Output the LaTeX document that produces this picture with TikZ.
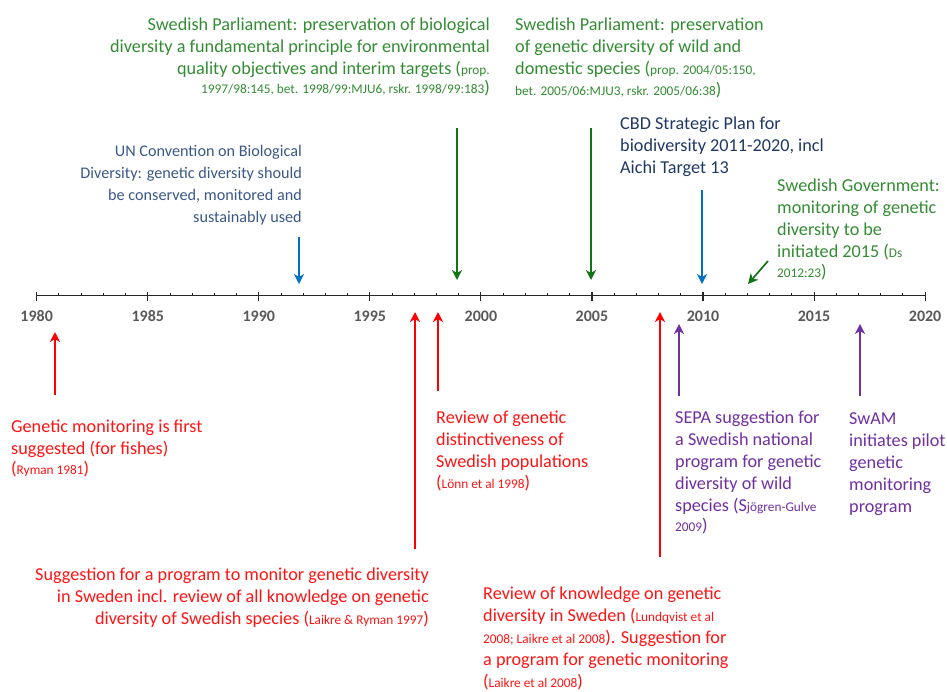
\documentclass[tikz,border=0pt]{standalone}
\usepackage{fontspec}
\setmainfont{Carlito}
\usetikzlibrary{arrows.meta}

\definecolor{govgreen}{RGB}{51,140,51}
\definecolor{arrowgreen}{RGB}{20,115,20}
\definecolor{sugred}{RGB}{255,20,20}
\definecolor{arrowblue}{RGB}{0,112,192}
\definecolor{unblue}{RGB}{58,88,135}
\definecolor{cbdblue}{RGB}{31,56,100}
\definecolor{swampurple}{RGB}{112,48,160}
\definecolor{yeargray}{RGB}{89,89,89}

\newcommand{\refsize}{\fontsize{13.3}{15}\selectfont}

\begin{document}
\begin{tikzpicture}[x=1pt,y=-1pt]
    % timeline 1980-2020, one unit is one pixel of the original
    % text nodes sit on the baseline of their last line
    \tikzstyle{event} = [inner sep=0pt, font=\fontsize{18.2}{21.9}\selectfont];
    \tikzstyle{year} = [inner sep=0pt, font=\fontsize{16}{18}\selectfont\bfseries, text=yeargray];
    \tikzstyle{pointer} = [line width=1.7pt, -{Stealth[length=10pt,width=10pt,inset=3pt]}];

    \useasboundingbox (0,0) rectangle (947,691);

    \coordinate (start) at (36.7,295.3);
    \coordinate (stop) at (925,295.3);
    \draw[line width=1.1pt, black!85] (start) -- (stop);
    \foreach \yr in {0,...,40}
        \draw[line width=0.9pt, black!85] (36.7+22.21*\yr,292.5) -- ++(0,2.8);
    \foreach \yr/\lbl in {0/1980,5/1985,10/1990,15/1995,20/2000,25/2005,30/2010,35/2015,40/2020} {
        \draw[line width=1.1pt, black!85] (36.7+22.21*\yr,291.5) -- ++(0,9.5);
        \node[year, anchor=base] (y\lbl) at (36.7+22.21*\yr,321.7) {\lbl};
    }

    % events above the line
    \node[event, text=govgreen, align=right, anchor=base east] (biodiv) at (490,93)
        {Swedish Parliament: preservation of biological\\
         diversity a fundamental principle for environmental\\
         quality objectives and interim targets ({\refsize prop.}\\[-3pt]
         {\refsize 1997/98:145, bet. 1998/99:MJU6, rskr. 1998/99:183})};
    \node[event, text=govgreen, align=left, anchor=base west] (genediv) at (515,95)
        {Swedish Parliament: preservation\\
         of genetic diversity of wild and\\
         domestic species ({\refsize prop. 2004/05:150,}\\[-1pt]
         {\refsize bet. 2005/06:MJU3, rskr. 2005/06:38})};
    \node[event, font=\fontsize{16.2}{21.7}\selectfont, text=unblue, align=right, anchor=base east] (uncbd) at (302,222)
        {UN Convention on Biological\\
         Diversity: genetic diversity should\\
         be conserved, monitored and\\
         sustainably used};
    \node[event, text=cbdblue, align=left, anchor=base west] (aichi) at (620,173)
        {CBD Strategic Plan for\\
         biodiversity 2011-2020, incl\\
         Aichi Target 13};
    \node[event, text=govgreen, align=left, anchor=base west] (govt) at (777,277)
        {Swedish Government:\\
         monitoring of genetic\\
         diversity to be\\
         initiated 2015 ({\refsize Ds}\\[-2pt]
         {\refsize 2012:23})};

    % events below the line
    \node[event, text=sugred, align=left, anchor=base west] (ryman) at (11,474)
        {Genetic monitoring is first\\
         suggested (for fishes)\\[-2pt]
         ({\refsize Ryman 1981})};
    \node[event, text=sugred, align=left, anchor=base west] (lonn) at (436,488)
        {Review of genetic\\
         distinctiveness of\\
         Swedish populations\\[-1pt]
         ({\refsize Lönn et al 1998})};
    \node[event, text=sugred, align=right, anchor=base east] (laikre97) at (429,624)
        {Suggestion for a program to monitor genetic diversity\\
         in Sweden incl. review of all knowledge on genetic\\
         diversity of Swedish species ({\refsize Laikre \& Ryman 1997})};
    \node[event, text=sugred, align=left, anchor=base west] (laikre08) at (483,687)
        {Review of knowledge on genetic\\
         diversity in Sweden ({\refsize Lundqvist et al}\\
         {\refsize 2008; Laikre et al 2008}). Suggestion for\\
         a program for genetic monitoring\\
         ({\refsize Laikre et al 2008})};
    \node[event, text=swampurple, align=left, anchor=base west] (sepa) at (675,531)
        {SEPA suggestion for\\
         a Swedish national\\
         program for genetic\\
         diversity of wild\\
         species (S{\refsize jögren-Gulve}\\[-2pt]
         {\refsize 2009})};
    \node[event, text=swampurple, align=left, anchor=base west] (swam) at (849,512)
        {SwAM\\
         initiates pilot\\
         genetic\\
         monitoring\\
         program};

    % arrow ends
    \coordinate (uncbd-from) at (299,237);     \coordinate (uncbd-to) at (299,284);
    \coordinate (biodiv-from) at (457,128);    \coordinate (biodiv-to) at (457,280);
    \coordinate (genediv-from) at (591,128);   \coordinate (genediv-to) at (591,280);
    \coordinate (aichi-from) at (702,190);     \coordinate (aichi-to) at (702,284);
    \coordinate (govt-from) at (768,261);      \coordinate (govt-to) at (748,284);
    \coordinate (ryman-from) at (55,395);      \coordinate (ryman-to) at (55,332);
    \coordinate (laikre97-from) at (415,549);  \coordinate (laikre97-to) at (415,312);
    \coordinate (lonn-from) at (438,391);      \coordinate (lonn-to) at (438,312);
    \coordinate (laikre08-from) at (660,557);  \coordinate (laikre08-to) at (660,312);
    \coordinate (sepa-from) at (679,396);      \coordinate (sepa-to) at (679,324);
    \coordinate (swam-from) at (860,396);      \coordinate (swam-to) at (860,324);

    \draw[pointer, arrowblue] (uncbd-from) -- (uncbd-to);
    \draw[pointer, arrowgreen] (biodiv-from) -- (biodiv-to);
    \draw[pointer, arrowgreen] (genediv-from) -- (genediv-to);
    \draw[pointer, arrowblue] (aichi-from) -- (aichi-to);
    \draw[pointer, arrowgreen] (govt-from) -- (govt-to);
    \draw[pointer, red] (ryman-from) -- (ryman-to);
    \draw[pointer, red] (laikre97-from) -- (laikre97-to);
    \draw[pointer, red] (lonn-from) -- (lonn-to);
    \draw[pointer, red] (laikre08-from) -- (laikre08-to);
    \draw[pointer, swampurple] (sepa-from) -- (sepa-to);
    \draw[pointer, swampurple] (swam-from) -- (swam-to);
\end{tikzpicture}
\end{document}
